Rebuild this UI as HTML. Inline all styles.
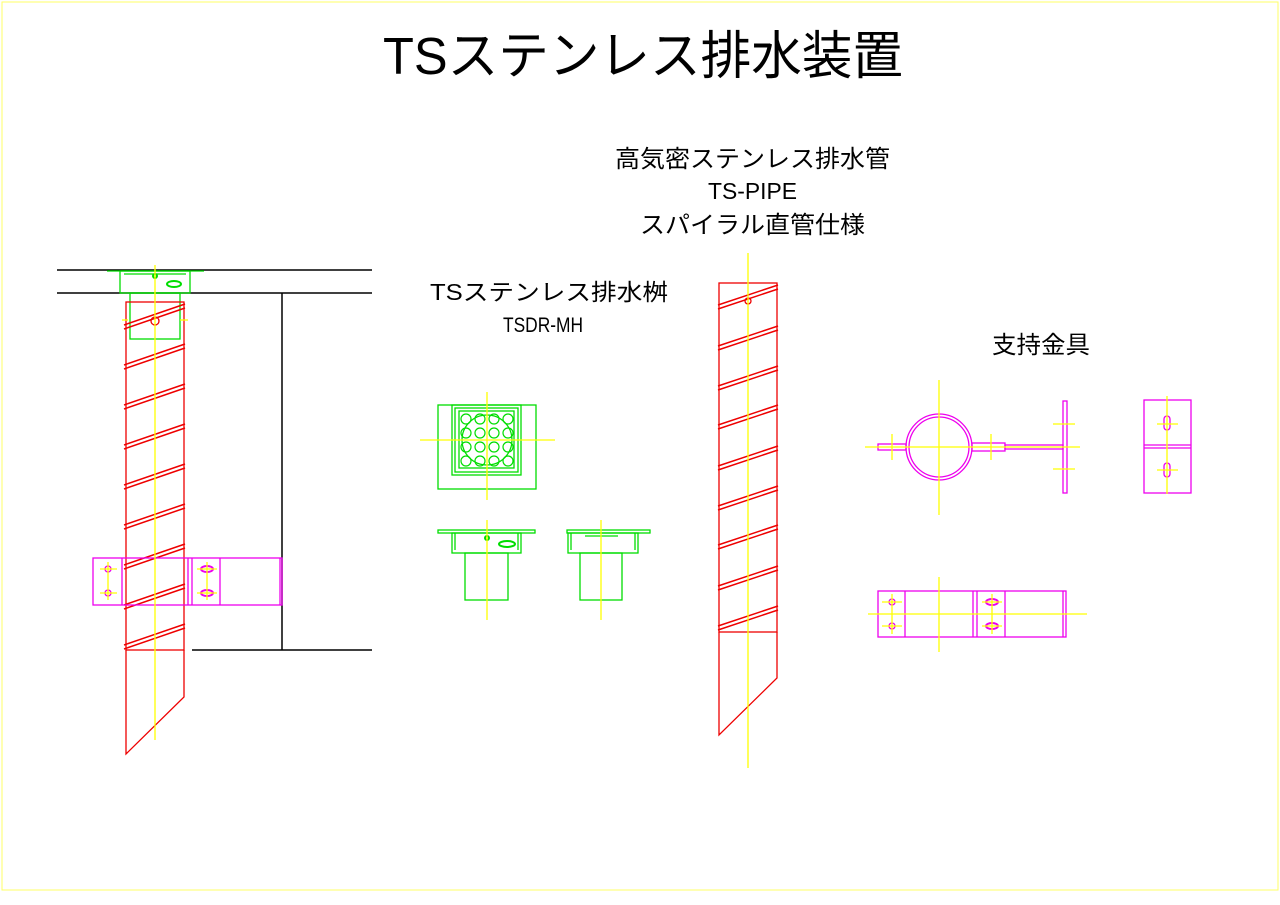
<!DOCTYPE html>
<html><head><meta charset="utf-8"><style>
html,body{margin:0;padding:0;background:#fff}
svg{display:block}
text{font-family:"Liberation Sans","Noto Sans CJK JP",sans-serif;fill:#000}
</style></head><body>
<svg width="1280" height="905" viewBox="0 0 1280 905" xmlns="http://www.w3.org/2000/svg" fill="none" stroke-width="1.3">
<rect x="2" y="2" width="1276" height="888" stroke="#ffff66" stroke-width="1"/>
<text x="383" y="74" font-size="52" textLength="520" lengthAdjust="spacingAndGlyphs">TSステンレス排水装置</text>
<text x="615" y="167" font-size="24" textLength="275" lengthAdjust="spacingAndGlyphs">高気密ステンレス排水管</text>
<text x="708" y="199" font-size="23" textLength="89" lengthAdjust="spacingAndGlyphs">TS-PIPE</text>
<text x="640" y="233" font-size="24" textLength="225" lengthAdjust="spacingAndGlyphs">スパイラル直管仕様</text>
<text x="430" y="300" font-size="23" textLength="238" lengthAdjust="spacingAndGlyphs">TSステンレス排水桝</text>
<text x="503" y="332" font-size="21" textLength="80" lengthAdjust="spacingAndGlyphs">TSDR-MH</text>
<text x="992" y="353" font-size="24" textLength="98" lengthAdjust="spacingAndGlyphs">支持金具</text>

<g stroke="#000" stroke-width="1.5">
<line x1="57" y1="270" x2="372" y2="270"/>
<line x1="57" y1="293" x2="372" y2="293"/>
<line x1="282" y1="293" x2="282" y2="650"/>
<line x1="192" y1="650" x2="372" y2="650"/>
</g>
<g stroke="#00dd00">
<line x1="107" y1="271" x2="204" y2="271"/>
<rect x="120" y="271" width="70" height="22"/>
<line x1="124" y1="274" x2="186" y2="274"/>
<rect x="130" y="293" width="50" height="46"/>
<ellipse cx="174" cy="284" rx="7" ry="3" stroke-width="2"/>
<circle cx="155" cy="276" r="2" stroke-width="2"/>
</g>
<g stroke="#ee0000">
<rect x="126" y="302" width="58" height="348"/>
<polyline points="126,650 126,754 184,697 184,650"/>
<circle cx="155" cy="321" r="4"/>
<g id="sp1">
<line x1="124" y1="325" x2="185" y2="304" stroke-width="1.5"/><line x1="124" y1="329" x2="185" y2="308" stroke-width="1.5"/>
</g>
<use href="#sp1" y="40"/><use href="#sp1" y="80"/><use href="#sp1" y="120"/><use href="#sp1" y="160"/><use href="#sp1" y="200"/><use href="#sp1" y="240"/><use href="#sp1" y="280"/><use href="#sp1" y="320"/>
</g>
<g stroke="#ee00ee">
<rect x="93" y="558" width="189" height="47"/>
<line x1="122" y1="558" x2="122" y2="605"/>
<line x1="188" y1="558" x2="188" y2="605"/>
<line x1="192" y1="558" x2="192" y2="605"/>
<line x1="220" y1="558" x2="220" y2="605"/>
<line x1="280" y1="558" x2="280" y2="605"/>
<circle cx="108" cy="569" r="3"/><circle cx="108" cy="593" r="3"/>
<ellipse cx="207" cy="569" rx="6" ry="3" stroke-width="2"/><ellipse cx="207" cy="593" rx="6" ry="3" stroke-width="2"/>
</g>
<g stroke="#ffff00">
<line x1="155" y1="265" x2="155" y2="740"/>
<line x1="100" y1="569" x2="117" y2="569"/><line x1="100" y1="593" x2="117" y2="593"/><line x1="108" y1="562" x2="108" y2="600"/>
<line x1="197" y1="569" x2="217" y2="569"/><line x1="197" y1="593" x2="217" y2="593"/><line x1="207" y1="562" x2="207" y2="600"/>
<line x1="122" y1="320" x2="128" y2="320"/><line x1="180" y1="320" x2="188" y2="320"/>
</g>

<g stroke="#00dd00">
<rect x="438" y="405" width="98" height="84"/>
<rect x="452" y="405" width="69" height="70"/>
<rect x="455" y="408" width="63" height="64"/>
<rect x="459" y="411" width="55" height="57"/>
<circle cx="487" cy="440" r="25"/>
<g stroke-width="1.2">
<circle cx="466" cy="419" r="5"/><circle cx="480" cy="419" r="5"/><circle cx="494" cy="419" r="5"/><circle cx="508" cy="419" r="5"/>
<circle cx="466" cy="433" r="5"/><circle cx="480" cy="433" r="5"/><circle cx="494" cy="433" r="5"/><circle cx="508" cy="433" r="5"/>
<circle cx="466" cy="447" r="5"/><circle cx="480" cy="447" r="5"/><circle cx="494" cy="447" r="5"/><circle cx="508" cy="447" r="5"/>
<circle cx="466" cy="461" r="5"/><circle cx="480" cy="461" r="5"/><circle cx="494" cy="461" r="5"/><circle cx="508" cy="461" r="5"/>
</g>
<rect x="438" y="530" width="97" height="3"/>
<rect x="452" y="533" width="69" height="20"/>
<line x1="455" y1="533" x2="455" y2="550"/><line x1="518" y1="533" x2="518" y2="550"/>
<rect x="465" y="553" width="43" height="47"/>
<ellipse cx="507" cy="544" rx="8" ry="3" stroke-width="2"/>
<circle cx="487" cy="538" r="2" stroke-width="2"/>
<rect x="567" y="530" width="83" height="3"/>
<rect x="568" y="533" width="70" height="20"/>
<line x1="571" y1="533" x2="571" y2="550"/><line x1="635" y1="533" x2="635" y2="550"/>
<line x1="585" y1="536" x2="618" y2="536"/>
<rect x="580" y="553" width="42" height="47"/>
</g>
<g stroke="#ffff00">
<line x1="420" y1="440" x2="555" y2="440"/>
<line x1="487" y1="392" x2="487" y2="500"/>
<line x1="487" y1="520" x2="487" y2="620"/>
<line x1="601" y1="520" x2="601" y2="620"/>
</g>

<g stroke="#ee0000">
<rect x="719" y="283" width="58" height="349"/>
<polyline points="719,632 719,735 777,678 777,632"/>
<circle cx="748" cy="301" r="3"/>
<g id="sp2">
<line x1="718" y1="305" x2="778" y2="285" stroke-width="1.5"/><line x1="718" y1="309" x2="778" y2="289" stroke-width="1.5"/>
</g>
<use href="#sp2" y="41"/><use href="#sp2" y="81"/><use href="#sp2" y="120"/><use href="#sp2" y="161"/><use href="#sp2" y="201"/><use href="#sp2" y="240"/><use href="#sp2" y="281"/><use href="#sp2" y="321"/>
</g>
<line x1="748" y1="253" x2="748" y2="768" stroke="#ffff00"/>

<g stroke="#ee00ee">
<circle cx="939" cy="447" r="33"/>
<circle cx="939" cy="447" r="30"/>
<rect x="878" y="444" width="28" height="6"/>
<rect x="972" y="443" width="33" height="8"/>
<rect x="1005" y="445" width="58" height="4"/>
<rect x="1063" y="401" width="4" height="92"/>
<rect x="1144" y="400" width="47" height="93"/>
<line x1="1144" y1="445" x2="1191" y2="445"/><line x1="1144" y1="448" x2="1191" y2="448"/>
<rect x="1164" y="416" width="6" height="14" rx="3"/>
<rect x="1164" y="463" width="6" height="14" rx="3"/>
<rect x="878" y="591" width="188" height="46"/>
<line x1="905" y1="591" x2="905" y2="637"/>
<line x1="973" y1="591" x2="973" y2="637"/>
<line x1="977" y1="591" x2="977" y2="637"/>
<line x1="1005" y1="591" x2="1005" y2="637"/>
<line x1="1063" y1="591" x2="1063" y2="637"/>
<circle cx="892" cy="602" r="3"/><circle cx="892" cy="626" r="3"/>
<ellipse cx="992" cy="602" rx="6" ry="3" stroke-width="2"/><ellipse cx="992" cy="626" rx="6" ry="3" stroke-width="2"/>
</g>
<g stroke="#ffff00">
<line x1="865" y1="447" x2="1080" y2="447"/>
<line x1="939" y1="380" x2="939" y2="515"/>
<line x1="892" y1="434" x2="892" y2="460"/>
<line x1="991" y1="434" x2="991" y2="460"/>
<line x1="1053" y1="424" x2="1075" y2="424"/>
<line x1="1053" y1="469" x2="1075" y2="469"/>
<line x1="1167" y1="396" x2="1167" y2="494"/>
<line x1="1157" y1="424" x2="1178" y2="424"/>
<line x1="1157" y1="470" x2="1178" y2="470"/>
<line x1="868" y1="614" x2="1087" y2="614"/>
<line x1="939" y1="577" x2="939" y2="652"/>
<line x1="892" y1="594" x2="892" y2="634"/>
<line x1="882" y1="602" x2="902" y2="602"/><line x1="882" y1="626" x2="902" y2="626"/>
<line x1="992" y1="594" x2="992" y2="634"/>
<line x1="982" y1="602" x2="1002" y2="602"/><line x1="982" y1="626" x2="1002" y2="626"/>
</g>
</svg>
</body></html>
